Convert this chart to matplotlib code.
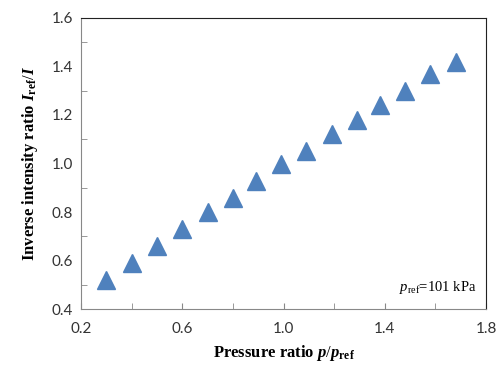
import matplotlib
matplotlib.use('Agg')
import matplotlib.pyplot as plt
from matplotlib.ticker import MultipleLocator, FixedLocator

# data
pressure_ratio = [0.30, 0.40, 0.50, 0.60, 0.70, 0.80, 0.89, 0.99, 1.09, 1.19, 1.29, 1.38, 1.48, 1.58, 1.68]
inverse_ratio = [0.52, 0.59, 0.66, 0.73, 0.80, 0.86, 0.93, 1.00, 1.05, 1.12, 1.18, 1.24, 1.30, 1.37, 1.42]
x_labels = [0.2, 0.6, 1.0, 1.4, 1.8]
x_minor = [0.4, 0.8, 1.2, 1.6]

plt.rcParams['mathtext.fontset'] = 'custom'
plt.rcParams['mathtext.rm'] = 'Liberation Serif'
plt.rcParams['mathtext.it'] = 'Liberation Serif:italic'
plt.rcParams['mathtext.bf'] = 'Liberation Serif:bold'
plt.rcParams['mathtext.bfit'] = 'Liberation Serif:italic:bold'

fig = plt.figure(figsize=(4.97, 3.65), dpi=100)
ax = fig.add_axes([0.163, 0.153, 0.815, 0.798])

ax.plot(pressure_ratio, inverse_ratio, linestyle='none', marker='^',
        markersize=13, color='#4F81BD', markeredgecolor='#4F81BD')

ax.set_xlim(0.2, 1.8)
ax.set_ylim(0.4, 1.6)
ax.xaxis.set_major_locator(FixedLocator(x_labels))
ax.xaxis.set_minor_locator(FixedLocator(x_minor))
ax.yaxis.set_major_locator(MultipleLocator(0.2))
ax.yaxis.set_minor_locator(MultipleLocator(0.1))
ax.xaxis.set_major_formatter(plt.FuncFormatter(lambda v, p: '%.1f' % v))
ax.yaxis.set_major_formatter(plt.FuncFormatter(lambda v, p: '%.1f' % v))

ax.tick_params(which='both', direction='in', color='#888888', labelsize=11,
               labelcolor='#333333')
ax.tick_params(axis='y', which='major', length=0)
ax.tick_params(axis='x', which='major', length=4)
ax.tick_params(which='minor', length=4)
ax.tick_params(axis='x', pad=9)
ax.tick_params(axis='y', pad=6)
for lab in ax.get_xticklabels() + ax.get_yticklabels():
    lab.set_family('Lato')

ax.spines['left'].set_color('#888888')
ax.spines['bottom'].set_color('#888888')
ax.spines['top'].set_color('#222222')
ax.spines['right'].set_color('#222222')

ax.set_xlabel(r'Pressure ratio $\mathbfit{p}/\mathbfit{p}_{\mathbf{ref}}$',
              fontfamily='Liberation Serif', fontweight='bold', fontsize=12, labelpad=5)
ax.set_ylabel(r'Inverse intensity ratio $\mathbfit{I}_{\mathbf{ref}}/\mathbfit{I}$',
              fontfamily='Liberation Serif', fontweight='bold', fontsize=12, labelpad=8)

ax.text(0.975, 0.075, r'$p_{\mathrm{ref}}$=101 kPa', transform=ax.transAxes,
        ha='right', va='center', fontfamily='Liberation Serif', fontsize=10.5)

plt.savefig('out.png', dpi=100)
